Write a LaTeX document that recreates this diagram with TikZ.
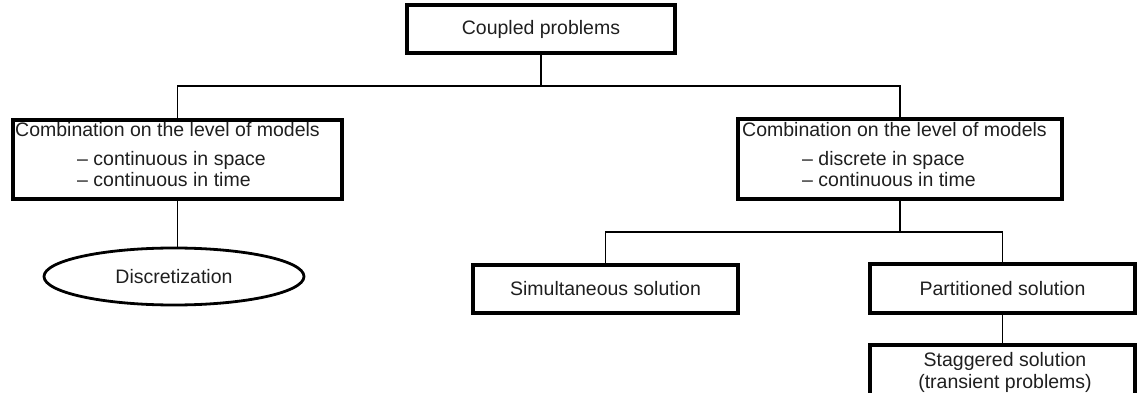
\documentclass[tikz,border=0pt]{standalone}
\usepackage{fontspec}
\setmainfont{Liberation Sans}
\usetikzlibrary{shapes.geometric}
\begin{document}
\begin{tikzpicture}[x=1pt,y=-1pt,
  txt/.style={inner sep=0pt, font=\fontsize{19.5}{22}\selectfont, text=black!88},
  box/.style={draw, line width=3.3pt, rectangle, inner sep=0pt, txt},
  oval/.style={draw, ellipse, line width=2.8pt, inner sep=0pt, txt},
  conn/.style={draw, line width=1.3pt},
  ]
\useasboundingbox (0,0) rectangle (1138,393);
% level 0
\node[box, minimum width=268pt, minimum height=48pt] (top) at (541,29) {Coupled problems};
% level 1
\node[box, minimum width=329pt, minimum height=79pt] (left) at (177.5,159.5) {};
\node[txt, anchor=base west] (l1) at (15,137) {Combination on the level of models};
\node[txt, anchor=base west] (l2) at (77,166) {– continuous in space};
\node[txt, anchor=base west] (l3) at (77,186) {– continuous in time};
\node[box, minimum width=324pt, minimum height=80pt] (right) at (900,159) {};
\node[txt, anchor=base west] (r1) at (742,137) {Combination on the level of models};
\node[txt, anchor=base west] (r2) at (802,166) {– discrete in space};
\node[txt, anchor=base west] (r3) at (802,186) {– continuous in time};
% level 2
\node[oval, minimum width=260pt, minimum height=57pt] (disc) at (174,276.5) {Discretization};
\node[box, minimum width=265pt, minimum height=48pt] (simul) at (605.5,289) {Simultaneous solution};
\node[box, minimum width=265pt, minimum height=49pt] (part) at (1002.5,288.5) {Partitioned solution};
% level 3
\node[box, minimum width=265pt, minimum height=52pt] (stag) at (1002.5,371) {};
\node[txt, anchor=base] (s1) at (1005,366) {Staggered solution};
\node[txt, anchor=base] (s2) at (1005,388) {(transient problems)};
% connectors
\coordinate (j1) at (541,86);
\draw[conn] (top.south) -- (j1);
\draw[conn] (j1) -| (left.north);
\draw[conn] (j1) -| (right.north);
\draw[conn] (left.south) -- (left.south |- disc.north);
\draw[conn] (right.south) -- (right.south |- 0,232) coordinate (j2);
\draw[conn] (j2) -| (simul.north);
\draw[conn] (j2) -| (part.north);
\draw[conn] (part.south) -- (stag.north);
\end{tikzpicture}
\end{document}
